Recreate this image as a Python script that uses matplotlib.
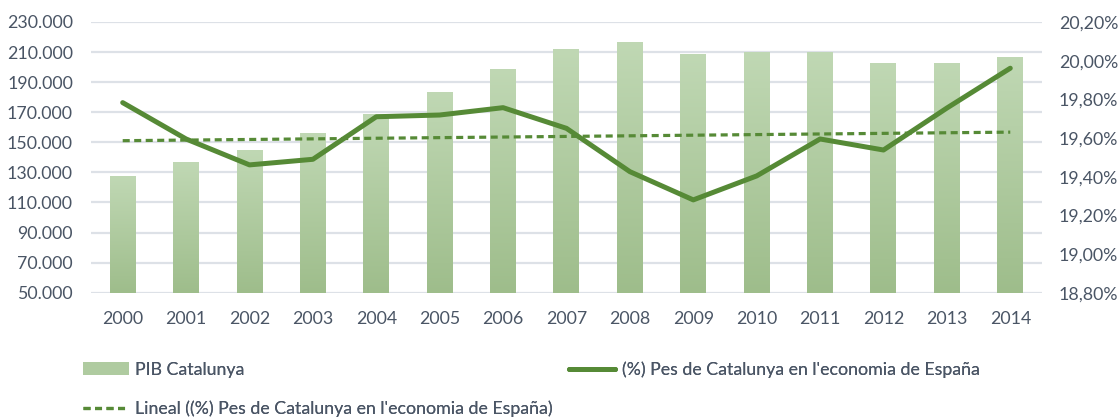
import matplotlib.pyplot as plt
from matplotlib.ticker import FuncFormatter
from matplotlib.lines import Line2D
from matplotlib.patches import Rectangle
import numpy as np

# data
years = [str(y) for y in range(2000, 2015)]
pib_catalunya = [127300, 136700, 145000, 156500, 168500, 183600, 199000, 212000,
                 217000, 208500, 210000, 210000, 203000, 203000, 207000]
pes_catalunya = [19.783, 19.595, 19.461, 19.49, 19.71, 19.719, 19.757, 19.650,
                 19.426, 19.280, 19.404, 19.595, 19.538, 19.755, 19.961]
left_ticks = [50000, 70000, 90000, 110000, 130000, 150000, 170000, 190000, 210000, 230000]
right_ticks = [18.8, 19.0, 19.2, 19.4, 19.6, 19.8, 20.0, 20.2]

label_bar = "PIB Catalunya"
label_line = "(%) Pes de Catalunya en l'economia de España"
label_trend = "Lineal ((%) Pes de Catalunya en l'economia de España)"

text_color = "#4a5565"
grid_color = "#dde1e7"
line_color = "#568a36"
bar_top = np.array([192, 216, 180]) / 255
bar_bottom = np.array([158, 189, 139]) / 255

plt.rcParams['font.family'] = ['Lato', 'DejaVu Sans']
fs = 12.8

fig = plt.figure(figsize=(11.18, 4.19), dpi=100)
ax = fig.add_axes([0.0814, 0.3014, 0.8506, 0.6461])
ax2 = ax.twinx()

x = np.arange(len(years))

# bars with a vertical gradient
bars = ax.bar(x, pib_catalunya, width=0.41, color='none', edgecolor='none', zorder=2)
grad = np.linspace(0, 1, 256)[:, None, None]
grad_img = bar_bottom * (1 - grad) + bar_top * grad
for b in bars:
    bx, by = b.get_x(), b.get_y()
    bw, bh = b.get_width(), b.get_height()
    im = ax.imshow(grad_img, extent=[bx, bx + bw, left_ticks[0], by + bh], origin='lower',
                   aspect='auto', zorder=2)
    im.set_clip_path(b)

ax.set_xlim(-0.5, len(years) - 0.5)
ax.set_ylim(left_ticks[0], left_ticks[-1])
ax.set_yticks(left_ticks)
ax.yaxis.set_major_formatter(FuncFormatter(lambda v, p: f"{int(round(v)):,}".replace(",", ".")))
ax.set_xticks(x)
ax.set_xticklabels(years)
ax.grid(axis='y', color=grid_color, lw=1.6, zorder=0)
ax.set_axisbelow(True)

# line and linear trend on the right axis
ax2.plot(x, pes_catalunya, color=line_color, lw=3.6, solid_capstyle='round',
         solid_joinstyle='round', zorder=4)
coef = np.polyfit(x, pes_catalunya, 1)
ax2.plot(x, np.polyval(coef, x), color=line_color, lw=2.3, ls=(0, (2.2, 1.4)), zorder=3)
ax2.set_ylim(right_ticks[0], right_ticks[-1])
ax2.set_yticks(right_ticks)
ax2.yaxis.set_major_formatter(FuncFormatter(lambda v, p: f"{v:.2f}%".replace(".", ",")))

for a in (ax, ax2):
    for s in a.spines.values():
        s.set_visible(False)
    a.tick_params(length=0, colors=text_color, labelsize=fs)
ax.tick_params(axis='y', pad=13)
ax.tick_params(axis='x', pad=13)
ax2.tick_params(axis='y', pad=12)

# legend entries, placed one by one like the original
h_bar = Rectangle((0, 0), 1, 1, facecolor=(bar_top + bar_bottom) / 2, edgecolor='none')
h_line = Line2D([], [], color=line_color, lw=3.6, solid_capstyle='round')
h_trend = Line2D([], [], color=line_color, lw=2.3, ls=(0, (2.2, 1.4)))
entries = [(h_bar, label_bar, 0.074, 0.118),
           (h_line, label_line, 0.509, 0.118),
           (h_trend, label_trend, 0.074, 0.025)]
for h, lab, lx, ly in entries:
    leg = fig.legend([h], [lab], loc='center left', bbox_to_anchor=(lx, ly),
                     frameon=False, borderpad=0, borderaxespad=0, handlelength=2.6,
                     handleheight=0.7, handletextpad=0.35, fontsize=fs,
                     labelcolor=text_color)
    fig.add_artist(leg)

fig.savefig("out.png", dpi=100)
